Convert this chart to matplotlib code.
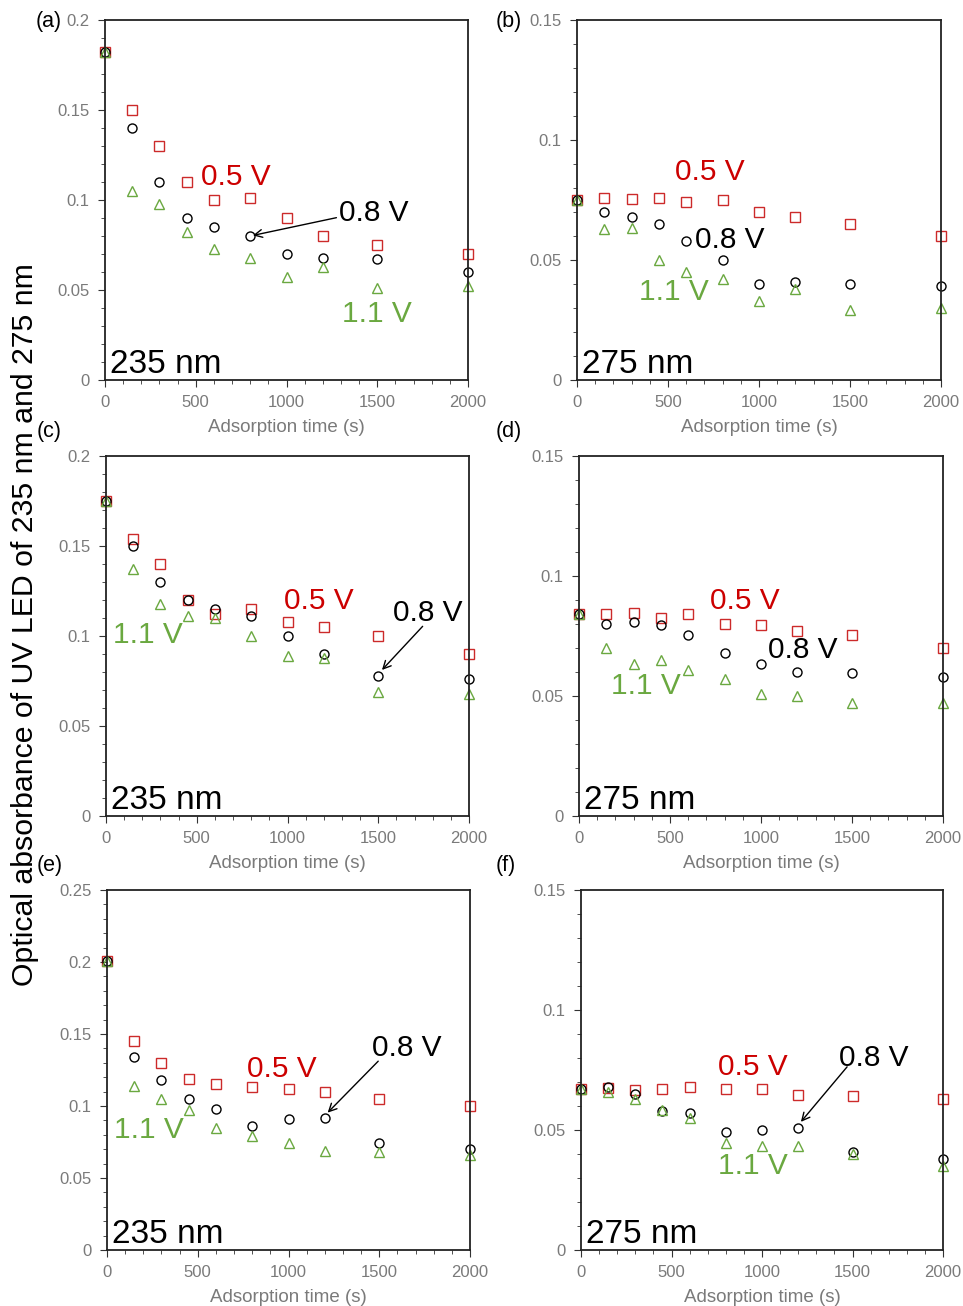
import matplotlib.pyplot as plt
from matplotlib.ticker import MultipleLocator, FuncFormatter

plt.rcParams['font.family'] = ['Liberation Sans', 'DejaVu Sans']

times = [0, 150, 300, 450, 600, 800, 1000, 1200, 1500, 2000]

# (a) 235 nm
a_05 = [0.182, 0.150, 0.130, 0.110, 0.100, 0.101, 0.090, 0.080, 0.075, 0.070]
a_08 = [0.182, 0.140, 0.110, 0.090, 0.085, 0.080, 0.070, 0.068, 0.067, 0.060]
a_11 = [0.182, 0.105, 0.098, 0.082, 0.073, 0.068, 0.057, 0.063, 0.051, 0.052]
# (b) 275 nm
b_05 = [0.075, 0.076, 0.0755, 0.076, 0.074, 0.075, 0.070, 0.068, 0.065, 0.060]
b_08 = [0.075, 0.070, 0.068, 0.065, 0.058, 0.050, 0.040, 0.041, 0.040, 0.039]
b_11 = [0.075, 0.063, 0.0635, 0.050, 0.045, 0.042, 0.033, 0.038, 0.029, 0.030]
# (c) 235 nm
c_05 = [0.175, 0.154, 0.140, 0.120, 0.112, 0.115, 0.108, 0.105, 0.100, 0.090]
c_08 = [0.175, 0.150, 0.130, 0.120, 0.115, 0.111, 0.100, 0.090, 0.078, 0.076]
c_11 = [0.175, 0.137, 0.118, 0.111, 0.110, 0.100, 0.089, 0.088, 0.069, 0.068]
# (d) 275 nm
d_05 = [0.084, 0.084, 0.0845, 0.0825, 0.084, 0.080, 0.0795, 0.077, 0.0755, 0.070]
d_08 = [0.084, 0.080, 0.081, 0.0795, 0.0755, 0.068, 0.0635, 0.060, 0.0595, 0.058]
d_11 = [0.084, 0.070, 0.0635, 0.065, 0.061, 0.057, 0.051, 0.050, 0.047, 0.047]
# (e) 235 nm
e_05 = [0.201, 0.145, 0.130, 0.119, 0.115, 0.113, 0.112, 0.110, 0.105, 0.100]
e_08 = [0.201, 0.134, 0.118, 0.105, 0.098, 0.086, 0.091, 0.092, 0.074, 0.070]
e_11 = [0.201, 0.114, 0.105, 0.097, 0.085, 0.079, 0.074, 0.069, 0.068, 0.066]
# (f) 275 nm
f_05 = [0.067, 0.0675, 0.0665, 0.067, 0.068, 0.067, 0.067, 0.0645, 0.064, 0.063]
f_08 = [0.067, 0.068, 0.065, 0.058, 0.057, 0.049, 0.050, 0.051, 0.041, 0.038]
f_11 = [0.067, 0.066, 0.063, 0.0585, 0.055, 0.0445, 0.0435, 0.0435, 0.040, 0.035]

panels = [
    ('(a)', '235 nm', 0.2, a_05, a_08, a_11),
    ('(b)', '275 nm', 0.15, b_05, b_08, b_11),
    ('(c)', '235 nm', 0.2, c_05, c_08, c_11),
    ('(d)', '275 nm', 0.15, d_05, d_08, d_11),
    ('(e)', '235 nm', 0.25, e_05, e_08, e_11),
    ('(f)', '275 nm', 0.15, f_05, f_08, f_11),
]

# label positions (data coords): 0.5 V, 0.8 V, 1.1 V, arrow (start, end) or None
labels = [
    ((720, 0.113), (1480, 0.093), (1500, 0.0366), ((1290, 0.0905), (800, 0.080))),
    ((730, 0.0865), (840, 0.0584), (530, 0.0365), None),
    ((1170, 0.1195), (1770, 0.113), (230, 0.1005), ((1755, 0.1065), (1510, 0.080))),
    ((910, 0.0897), (1230, 0.0693), (370, 0.0540), None),
    ((965, 0.126), (1650, 0.140), (230, 0.0833), ((1505, 0.1325), (1205, 0.094))),
    ((948, 0.0764), (1620, 0.080), (948, 0.0350), ((1480, 0.0772), (1205, 0.0525))),
]

red = '#cc2a2a'
green = '#6aa840'
gray = '#7a7a7a'

fig = plt.figure(figsize=(9.63, 13.06), dpi=100)
W, H = 963, 1306
boxes = [(105, 20, 468, 380), (577, 20, 941, 380),
         (106, 456, 469, 816), (579, 456, 943, 816),
         (107, 890, 470, 1250), (581, 890, 943, 1250)]
# panel tag positions (pixels, left x / center y)
tag_pos = [(36, 22), (496, 22), (37, 432), (496, 432), (37, 865), (496, 865)]

fmt = FuncFormatter(lambda v, p: '%g' % round(v, 4))

for (tag, wl, ymax, s05, s08, s11), box, lab, tp in zip(panels, boxes, labels, tag_pos):
    l, t, r, b = box
    ax = fig.add_axes([l / W, 1 - b / H, (r - l) / W, (b - t) / H])
    ax.plot(times, s05, 's', mfc='none', mec=red, ms=6.5, mew=1.0, clip_on=False)
    ax.plot(times, s08, 'o', mfc='none', mec='black', ms=6.5, mew=1.0, clip_on=False)
    ax.plot(times, s11, '^', mfc='none', mec=green, ms=6.5, mew=1.0, clip_on=False)
    ax.set_xlim(0, 2000)
    ax.set_ylim(0, ymax)
    ax.xaxis.set_major_locator(MultipleLocator(500))
    ax.xaxis.set_minor_locator(MultipleLocator(100))
    ax.yaxis.set_major_locator(MultipleLocator(0.05))
    ax.yaxis.set_minor_locator(MultipleLocator(0.01))
    ax.yaxis.set_major_formatter(fmt)
    ax.tick_params(which='both', direction='out', labelsize=12, labelcolor=gray,
                   color='#333333', top=False, right=False)
    ax.tick_params(which='major', length=5, pad=6)
    ax.tick_params(which='minor', length=3)
    for sp in ax.spines.values():
        sp.set_color('#222222')
        sp.set_linewidth(1.3)
    ax.set_xlabel('Adsorption time (s)', fontsize=13.5, color=gray, labelpad=6)

    p05, p08, p11, arr = lab
    ax.text(p05[0], p05[1], '0.5 V', color='#cc0000', fontsize=21.5, ha='center', va='center')
    ax.text(p08[0], p08[1], '0.8 V', color='black', fontsize=21.5, ha='center', va='center')
    ax.text(p11[0], p11[1], '1.1 V', color=green, fontsize=21.5, ha='center', va='center')
    if arr is not None:
        ax.annotate('', xy=arr[1], xytext=arr[0],
                    arrowprops=dict(arrowstyle='->', color='black', lw=1.0,
                                    mutation_scale=14))
    ax.text(0.015, 0.0, wl, transform=ax.transAxes, fontsize=24, ha='left', va='bottom')
    fig.text(tp[0] / W, 1 - tp[1] / H, tag, fontsize=15.5, ha='left', va='center')

fig.text(25 / W, 1 - 625 / H, 'Optical absorbance of UV LED of 235 nm and 275 nm',
         rotation=90, fontsize=21.8, ha='center', va='center')

fig.savefig('out.png', dpi=100)
